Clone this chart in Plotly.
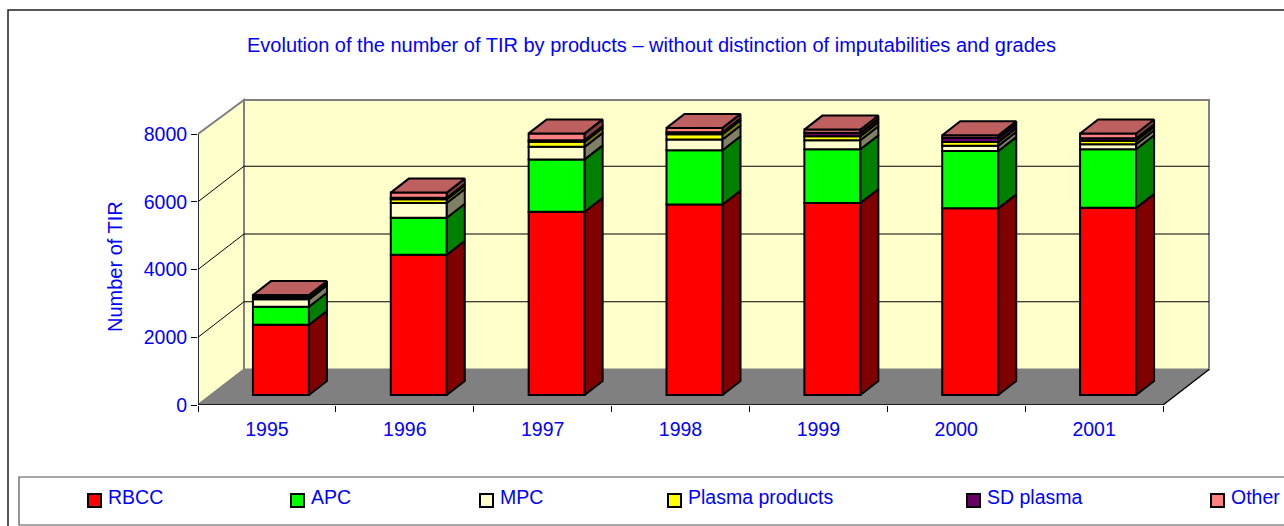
import plotly.graph_objects as go

# ---------- data ----------
years = [1995, 1996, 1997, 1998, 1999, 2000, 2001]
rbcc = [2075, 4140, 5410, 5625, 5670, 5510, 5525]
apc = [531, 1090, 1545, 1600, 1585, 1690, 1730]
mpc = [218, 440, 370, 315, 265, 155, 150]
plasma = [50, 110, 148, 155, 120, 110, 100]
sd_plasma = [45, 45, 50, 60, 100, 130, 75]
other = [30, 150, 200, 130, 95, 75, 140]
series_names = ["RBCC", "APC", "MPC", "Plasma products", "SD plasma", "Other"]
y_ticks = [0, 2000, 4000, 6000, 8000]

title_text = "Evolution of the number of TIR by products \u2013 without distinction of imputabilities and grades"
y_title = "Number of TIR"

# ---------- style ----------
BLUE = "#0000FF"
FONT = "Liberation Sans"
fronts = ["#FF0000", "#00FF00", "#FFFFCC", "#FFFF00", "#660066", "#FF8080"]
sides = ["#800000", "#008000", "#808066", "#808000", "#330033", "#804040"]
top_colour = "#BF6060"
EDGE = 2

W, H = 1284, 526
L, R, T, B = 198, 1211, 97, 405          # plot area in pixels
PX_X = 137.86                            # px per year
PX_Y = 271 / 8000                        # px per TIR
x0 = years[0] - 0.5
x_range = [x0, x0 + (R - L) / PX_X]
y_range = [0, (B - T) / PX_Y]

wall_dx, wall_dy = 46 / PX_X, 35.5 / PX_Y  # depth of the chart box
bar_dx, bar_dy = 18 / PX_X, 14 / PX_Y      # depth of a bar
bar_w = 56 / PX_X
bar_shift = 14 / PX_X                      # bars stand inside the floor
lift = 10 / PX_Y

series = [rbcc, apc, mpc, plasma, sd_plasma, other]

# cumulative bottoms, lifted onto the floor
bases = []
running = [lift] * len(years)
for s in series:
    bases.append(list(running))
    running = [r + v for r, v in zip(running, s)]

fig = go.Figure()

# front faces
for name, s, b, c in zip(series_names, series, bases, fronts):
    fig.add_trace(go.Bar(
        x=years, y=s, base=b, name=name, width=bar_w, offset=-bar_w / 2 + bar_shift,
        marker=dict(color=c, line=dict(color="black", width=EDGE)),
        showlegend=False, hoverinfo="skip"))

# side faces
for name, s, b, c in zip(series_names, series, bases, sides):
    xs, ys = [], []
    for yr, v, bb in zip(years, s, b):
        xr = yr - bar_w / 2 + bar_shift + bar_w
        xs += [xr, xr + bar_dx, xr + bar_dx, xr, xr, None]
        ys += [bb, bb + bar_dy, bb + v + bar_dy, bb + v, bb, None]
    fig.add_trace(go.Scatter(x=xs, y=ys, mode="lines", fill="toself", fillcolor=c,
                             line=dict(color="black", width=EDGE),
                             showlegend=False, hoverinfo="skip"))

# top faces
xs, ys = [], []
for yr, tp in zip(years, running):
    xl = yr - bar_w / 2 + bar_shift
    xr = xl + bar_w
    xs += [xl, xl + bar_dx, xr + bar_dx, xr, xl, None]
    ys += [tp, tp + bar_dy, tp + bar_dy, tp, tp, None]
fig.add_trace(go.Scatter(x=xs, y=ys, mode="lines", fill="toself", fillcolor=top_colour,
                         line=dict(color="black", width=EDGE),
                         showlegend=False, hoverinfo="skip"))

# ---------- chart box ----------
shapes = []
xl, xr = x_range[0], x0 + len(years)
wall_top = 8000 + wall_dy - 1.5 / PX_Y


def poly(pts):
    return "M" + " L".join(f"{a},{b}" for a, b in pts) + " Z"


def px(x):
    return (x - L) / (R - L)


def py(y):
    return (B - y) / (B - T)


# outer frame and legend box (pixels of the page)
shapes.append(dict(type="rect", xref="paper", yref="paper", layer="below",
                   x0=px(8), x1=px(W + 5), y0=py(H + 5), y1=py(10),
                   fillcolor="white", line=dict(color="#202020", width=1.5)))
shapes.append(dict(type="rect", xref="paper", yref="paper", layer="below",
                   x0=px(19), x1=px(W + 5), y0=py(525), y1=py(477),
                   fillcolor="white", line=dict(color="#505050", width=1.2)))

WALL = "#FFFFCC"
GREY = "#808080"
shapes.append(dict(type="path", xref="x", yref="y", layer="below", fillcolor=WALL,
                   line=dict(color=GREY, width=2),
                   path=poly([(xl + wall_dx, wall_dy), (xr + wall_dx, wall_dy),
                              (xr + wall_dx, wall_top), (xl + wall_dx, wall_top)])))
shapes.append(dict(type="path", xref="x", yref="y", layer="below", fillcolor=WALL,
                   line=dict(color=GREY, width=2),
                   path=poly([(xl, 0), (xl + wall_dx, wall_dy), (xl + wall_dx, wall_top), (xl, 8000)])))
shapes.append(dict(type="path", xref="x", yref="y", layer="below", fillcolor=GREY,
                   line=dict(color=GREY, width=1),
                   path=poly([(xl, 0), (xr, 0), (xr + wall_dx, wall_dy), (xl + wall_dx, wall_dy)])))
for t in y_ticks[1:-1]:
    shapes.append(dict(type="line", xref="x", yref="y", layer="below", x0=xl, y0=t,
                       x1=xl + wall_dx, y1=t + wall_dy, line=dict(color="black", width=1)))
    shapes.append(dict(type="line", xref="x", yref="y", layer="below", x0=xl + wall_dx, y0=t + wall_dy,
                       x1=xr + wall_dx, y1=t + wall_dy, line=dict(color="black", width=1)))
# front axis lines
shapes.append(dict(type="line", xref="x", yref="y", layer="below", x0=xl, y0=0, x1=xl, y1=8000,
                   line=dict(color="black", width=1.3)))
shapes.append(dict(type="line", xref="x", yref="y", layer="below", x0=xl, y0=0, x1=xr, y1=0,
                   line=dict(color="black", width=1.3)))
shapes.append(dict(type="line", xref="x", yref="y", layer="below", x0=xr, y0=0, x1=xr + wall_dx, y1=wall_dy,
                   line=dict(color="black", width=1.3)))

annotations = [
    dict(text=title_text, xref="paper", yref="paper", x=px(651.5), y=py(45), xanchor="center", yanchor="middle",
         showarrow=False, font=dict(family=FONT, size=20, color=BLUE)),
    dict(text=y_title, xref="paper", yref="paper", x=px(115), y=py(267), xanchor="center", yanchor="middle",
         showarrow=False, textangle=-90, font=dict(family=FONT, size=20, color=BLUE)),
]

legend_x = [88, 291, 480, 668, 967, 1211]
for name, c, lx in zip(series_names, fronts, legend_x):
    shapes.append(dict(type="rect", xref="paper", yref="paper", x0=px(lx), x1=px(lx + 13),
                       y0=py(507), y1=py(494), fillcolor=c, line=dict(color="black", width=2)))
    annotations.append(dict(text=name, xref="paper", yref="paper", x=px(lx + 18), y=py(497),
                            xanchor="left", yanchor="middle", showarrow=False,
                            font=dict(family=FONT, size=19.5, color=BLUE)))

fig.update_layout(
    width=W, height=H, autosize=False,
    margin=dict(l=L, r=W - R, t=T, b=H - B, pad=0),
    paper_bgcolor="white", plot_bgcolor="rgba(0,0,0,0)",
    barmode="overlay", showlegend=False, shapes=shapes, annotations=annotations,
    xaxis=dict(range=x_range, tickmode="array", tickvals=years, ticktext=[str(y) for y in years],
               ticks="", showgrid=False, zeroline=False, showline=False, ticklabelstandoff=10,
               tickfont=dict(family=FONT, size=19.5, color=BLUE),
               minor=dict(tickmode="array", tickvals=[x0 + i for i in range(len(years) + 1)],
                          ticks="outside", ticklen=6, tickcolor="black", tickwidth=1, showgrid=False)),
    yaxis=dict(range=y_range, tickmode="array", tickvals=y_ticks, ticks="outside", ticklen=6,
               tickcolor="black", showgrid=False, zeroline=False, showline=False,
               tickfont=dict(family=FONT, size=19.5, color=BLUE)),
)

fig.write_html("out.html", config={"displayModeBar": False},
               post_script="document.body.style.margin='0';document.body.style.overflow='hidden';")
